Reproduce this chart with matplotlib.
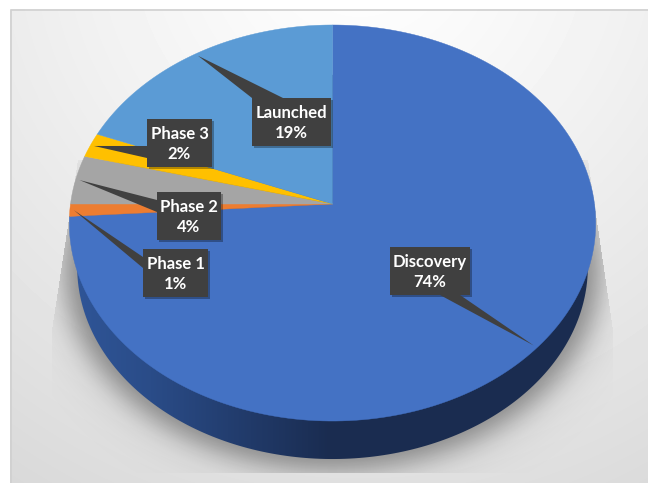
"""Pipeline share by stage, drawn as a tilted 3D-style pie with callout labels."""

import numpy as np
import matplotlib
matplotlib.use("Agg")
import matplotlib.pyplot as plt
from matplotlib.patches import Polygon, Rectangle
from matplotlib.path import Path

stages = ["Discovery", "Phase 1", "Phase 2", "Phase 3", "Launched"]
shares = [74, 1, 4, 2, 19]
colors = ["#4472C4", "#ED7D31", "#A5A5A5", "#FFC000", "#5B9BD5"]

W, H = 648, 483

# pie apex and perspective settings, all in pixels
CX, CY = 332.5, 204.0
RX, RY = 262.0, 196.2
TILT = 0.096
WALL_SCALE, WALL_DROP = 0.97, 44.5

# callout boxes: x0, y0, x1, y1, then the two points where the tail leaves the box
boxes = {
    "Discovery": (390, 247, 470, 295, (440, 295), (460, 295)),
    "Phase 1": (143, 249, 208, 297, (143, 257), (143, 268)),
    "Phase 2": (157, 192, 221, 240, (157, 200), (157, 212)),
    "Phase 3": (147, 119, 212, 167, (147, 146), (147, 158)),
    "Launched": (252, 98, 331, 146, (252, 98), (283, 98)),
}


def project(angle, radius=1.0):
    """Clockwise angle from 12 o'clock (radians) to pixel position on the tilted disc."""
    u = radius * np.sin(angle)
    v = radius * np.cos(angle)
    d = 1 + TILT * v
    return CX + RX * u / d, CY - RY * v / d


def disc_outline(scale=1.0, drop=0.0, grow=0.0, n=360):
    x, y = project(np.linspace(0, 2 * np.pi, n))
    x = CX + (x - CX) * scale * (1 + grow)
    y = CY + (y - CY) * scale * (1 + grow) + drop
    return np.column_stack([x, y])


def blur(mask, sigma):
    radius = int(3 * sigma)
    kernel = np.exp(-0.5 * (np.arange(-radius, radius + 1) / sigma) ** 2)
    kernel /= kernel.sum()
    out = np.apply_along_axis(lambda r: np.convolve(r, kernel, mode="same"), 0, mask)
    return np.apply_along_axis(lambda r: np.convolve(r, kernel, mode="same"), 1, out)


fig = plt.figure(figsize=(W / 100, H / 100), dpi=100, facecolor="white")
ax = fig.add_axes([0, 0, 1, 1])

xx, yy = np.meshgrid(np.arange(W) + 0.5, np.arange(H) + 0.5)
grid = np.column_stack([xx.ravel(), yy.ravel()])

# panel background, brightest just above the top centre
dist = np.hypot(xx - 360, yy + 60)
level = np.clip(255 - 38 * (dist / 640) ** 1.2, 0, 255) / 255
ax.imshow(level, cmap="gray", vmin=0, vmax=1, extent=(0, W, H, 0), aspect="auto", zorder=0)
ax.add_patch(Rectangle((0, 0), 10, H, color="white", zorder=1, lw=0))
ax.add_patch(Rectangle((0, 0), W, 9, color="white", zorder=1, lw=0))
ax.plot([10.5, 10.5, W], [H, 9.5, 9.5], color="#D0D0D0", lw=1.2, zorder=2)

# soft shadow under the disc, cut off by a fan-shaped outline
fan = Path([(78, 160), (52, 330), (52, 473), (613, 473), (613, 330), (588, 160)])
fan_mask = fan.contains_points(grid).reshape(H, W).astype(float)
disc_path = Path(disc_outline(WALL_SCALE, WALL_DROP, grow=0.05))
disc_mask = disc_path.contains_points(grid).reshape(H, W).astype(float)
alpha = 0.30 * blur(disc_mask, 12) + 0.14 * blur(disc_mask, 30)
alpha = alpha * fan_mask
rgba = np.zeros((H, W, 4))
rgba[..., 3] = np.clip(alpha, 0, 1)
ax.imshow(rgba, extent=(0, W, H, 0), aspect="auto", zorder=3)

# side wall: lower disc filled with a horizontal gradient
wall = Polygon(disc_outline(WALL_SCALE, WALL_DROP), closed=True, fc="none", ec="none",
               transform=ax.transData, zorder=4)
ax.add_patch(wall)
ramp_x = [0, 75, 150, 250, 330, W]
ramp_c = np.array([[47, 85, 151], [47, 85, 151], [42, 76, 136], [33, 58, 105], [26, 44, 80], [26, 44, 80]]) / 255
ramp = np.column_stack([np.interp(np.arange(W), ramp_x, ramp_c[:, i]) for i in range(3)])
im = ax.imshow(ramp[np.newaxis, :, :], extent=(0, W, H, 0), aspect="auto", zorder=4)
im.set_clip_path(wall)

# slices, clockwise from 12 o'clock
edges = np.concatenate([[0], np.cumsum(shares)]) / sum(shares) * 2 * np.pi
for i, color in enumerate(colors):
    t = np.linspace(edges[i], edges[i + 1], 200)
    x, y = project(t)
    ax.fill(np.r_[CX, x], np.r_[CY, y], color=color, lw=0.3, zorder=5)

# callouts with tails pointing at each slice's rim
for i, stage in enumerate(stages):
    x0, y0, x1, y1, base_a, base_b = boxes[stage]
    tip = project((edges[i] + edges[i + 1]) / 2, 0.985)
    ax.add_patch(Rectangle((x0 + 1.5, y0 + 1.5), x1 - x0, y1 - y0, fc="black", alpha=0.3, lw=0, zorder=6))
    ax.add_patch(Polygon([tip, base_a, base_b], closed=True, fc="#404040", lw=0, zorder=7))
    ax.add_patch(Rectangle((x0, y0), x1 - x0, y1 - y0, fc="#404040", lw=0, zorder=7))
    ax.text((x0 + x1) / 2, (y0 + y1) / 2 + 1, f"{stage}\n{shares[i]}%", color="white", ha="center", va="center",
            fontsize=12, family="Lato", fontweight="bold", linespacing=1.35, zorder=8)

ax.set_xlim(0, W)
ax.set_ylim(H, 0)
ax.axis("off")

fig.savefig("out.png", dpi=100)
